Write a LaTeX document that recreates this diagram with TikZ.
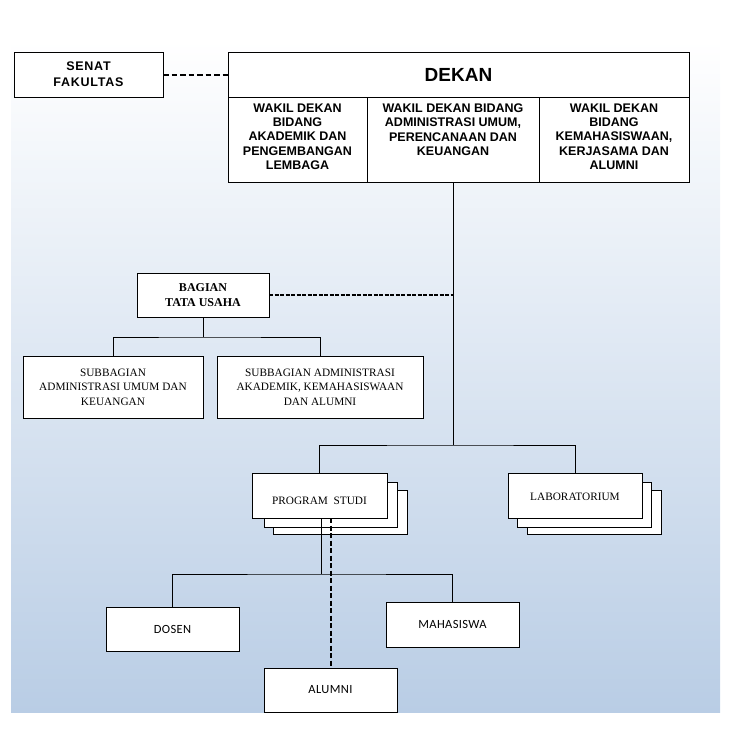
\documentclass[tikz,border=0pt]{standalone}
\usepackage{fontspec}
\setmainfont{Liberation Serif}
\newfontfamily\arialb{Liberation Sans}[BoldFont={Liberation Sans Bold}]
\newfontfamily\arialsp{Liberation Sans}[BoldFont={Liberation Sans Bold}, LetterSpace=6]
\newfontfamily\calib{Carlito}[LetterSpace=3]
\definecolor{bgblue}{RGB}{185,205,229}
\tikzset{
  box/.style={draw=black, line width=1pt, fill=white, inner sep=0pt, outer sep=0pt},
  conn/.style={draw=black, line width=1pt},
  dashA/.style={draw=black, line width=2pt, dash pattern=on 5.5pt off 3pt},
  dashB/.style={draw=black, line width=1.2pt, dash pattern=on 4pt off 1.5pt},
  dashC/.style={draw=black, line width=2pt, dash pattern=on 5pt off 2.5pt},
  wakiltxt/.style={inner sep=0pt, align=center, font=\arialb\bfseries\fontsize{12.5}{14.3}\selectfont, anchor=north},
  calibtxt/.style={font=\calib\fontsize{12.5}{14}\selectfont},
}
\begin{document}
\begin{tikzpicture}[x=1pt,y=-1pt]
\useasboundingbox (0,0) rectangle (734,742);
% background
\shade[top color=white, bottom color=bgblue] (11,40) rectangle (720,712);

% top row
\node[box, minimum width=149pt, minimum height=45pt, align=center,
  font=\arialsp\bfseries\fontsize{12.5}{16}\selectfont] (senat) at (88.5,74.5) {SENAT\\FAKULTAS};
\node[box, minimum width=461pt, minimum height=45pt,
  font=\arialb\bfseries\fontsize{19}{22}\selectfont] (dekan) at (458.5,74.5) {DEKAN};
\node[box, minimum width=139pt, minimum height=85pt] (w1) at (297.5,139.5) {};
\node[box, minimum width=172pt, minimum height=85pt] (w2) at (453,139.5) {};
\node[box, minimum width=150pt, minimum height=85pt] (w3) at (614,139.5) {};
\node[wakiltxt] (w1t) at ([yshift=-6.5pt]w1.north) {WAKIL DEKAN\\BIDANG\\AKADEMIK DAN\\PENGEMBANGAN\\LEMBAGA};
\node[wakiltxt] (w2t) at ([yshift=-6.5pt]w2.north) {WAKIL DEKAN BIDANG\\ADMINISTRASI UMUM,\\PERENCANAAN DAN\\KEUANGAN};
\node[wakiltxt] (w3t) at ([yshift=-6.5pt]w3.north) {WAKIL DEKAN\\BIDANG\\KEMAHASISWAAN,\\KERJASAMA DAN\\ALUMNI};
\draw[dashA] (senat.east) -- (dekan.west);

% tata usaha
\node[box, minimum width=132pt, minimum height=44pt, align=center,
  font=\bfseries\fontsize{12}{15}\selectfont] (tu) at (203,295) {BAGIAN\\TATA USAHA};
\node[box, minimum width=180pt, minimum height=62pt, align=center,
  font=\fontsize{11.3}{14.5}\selectfont] (sb1) at (113,387) {SUBBAGIAN\\ADMINISTRASI UMUM DAN\\KEUANGAN};
\node[box, minimum width=206pt, minimum height=62pt, align=center,
  font=\fontsize{11.3}{14.5}\selectfont] (sb2) at (320,387) {SUBBAGIAN ADMINISTRASI\\AKADEMIK, KEMAHASISWAAN\\DAN ALUMNI};
\coordinate (j1) at (453,445);
\coordinate (tuj) at (453,295);
\draw[conn] (w2.south) -- (j1);
\draw[dashB] (tu.east) -- (tuj);
\coordinate (tub) at (203,337);
\draw[conn] (tu.south) -- (tub);
\draw[conn] (sb1.north) |- (tub) -| (sb2.north);

% program studi & laboratorium (stacks)
\node[box, minimum width=134pt, minimum height=44pt] (ps3) at (340,512) {};
\node[box, minimum width=133pt, minimum height=45pt] (ps2) at (330.5,504.5) {};
\node[box, minimum width=134pt, minimum height=44pt] (lab3) at (594,512) {};
\node[box, minimum width=134pt, minimum height=45pt] (lab2) at (584,504.5) {};
\node[box, minimum width=135pt, minimum height=45pt] (ps) at (319.5,495.5) {};
\node[inner sep=0pt, font=\fontsize{11.3}{13}\selectfont] (pst) at (319.5,501) {PROGRAM\ \ STUDI};
\node[box, minimum width=134pt, minimum height=45pt] (lab) at (575,495.5) {};
\node[inner sep=0pt, font=\fontsize{11.3}{13}\selectfont] (labt) at (575,497) {LABORATORIUM};
\draw[conn] (ps.north) |- (j1) -| (lab.north);

% bottom row
\node[box, minimum width=133pt, minimum height=44pt, calibtxt] (dosen) at (172.5,629) {DOSEN};
\node[box, minimum width=133pt, minimum height=45pt, calibtxt] (maha) at (452.5,624.5) {MAHASISWA};
\node[box, minimum width=133pt, minimum height=44pt, calibtxt] (alumni) at (330.5,690) {ALUMNI};
\coordinate (psb) at (321,518);
\coordinate (psj) at (321,574);
\coordinate (psd) at (330.5,518);
\draw[conn] (psb) -- (psj);
\draw[conn] (dosen.north) |- (psj) -| (maha.north);
\draw[dashC] (psd) -- (alumni.north);
\end{tikzpicture}
\end{document}
